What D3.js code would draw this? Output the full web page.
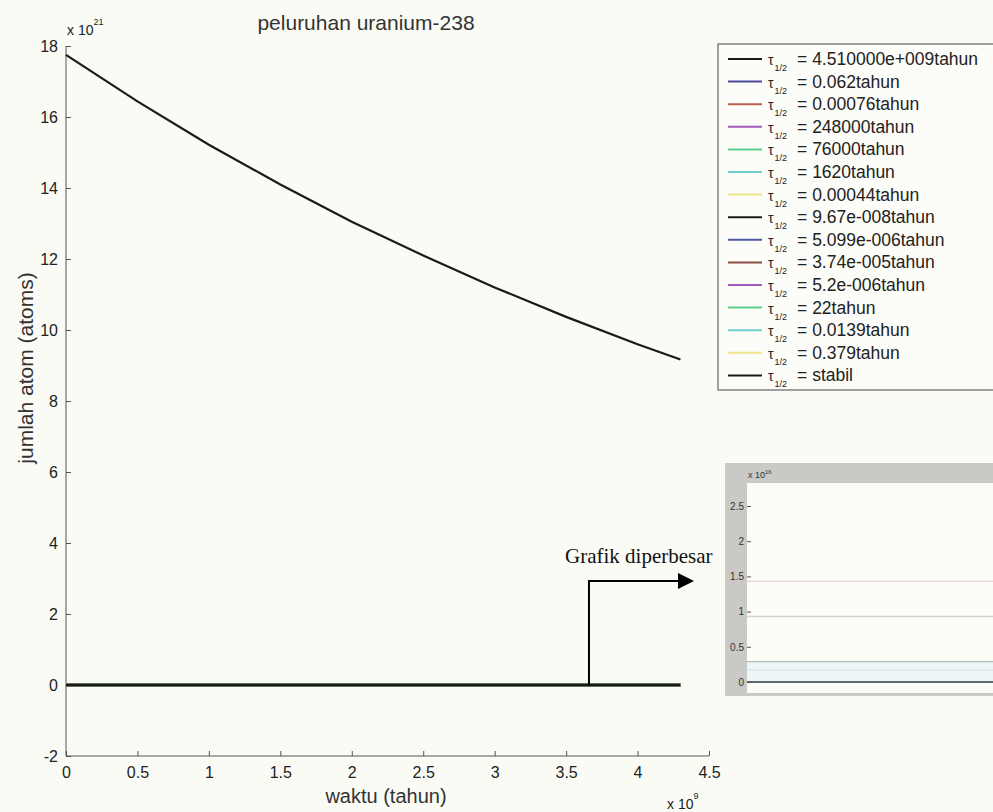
<!DOCTYPE html>
<html>
<head>
<meta charset="utf-8">
<script src="https://cdn.jsdelivr.net/npm/d3@7"></script>
<style>
  html, body { margin: 0; padding: 0; background: #fbfbf6; }
  svg { display: block; font-family: Arial, "Liberation Sans", sans-serif; }
</style>
</head>
<body>
<div id="chart"></div>
<script>
// waktu (tahun) and jumlah atom for U-238, others stay on zero
const tahun = [0, 0.5e9, 1e9, 1.5e9, 2e9, 2.5e9, 3e9, 3.5e9, 4e9, 4.3e9];
const u238 = [17.75e21, 16.44e21, 15.22e21, 14.1e21, 13.05e21, 12.1e21, 11.2e21, 10.37e21, 9.6e21, 9.17e21];
const nol = [0, 0, 0, 0, 0, 0, 0, 0, 0, 0];

const waktuParuh = ["4.510000e+009", "0.062", "0.00076", "248000", "76000", "1620", "0.00044",
  "9.67e-008", "5.099e-006", "3.74e-005", "5.2e-006", "22", "0.0139", "0.379", "stabil"];
const warna = ["#1a1a1a", "#4a4a9a", "#b8604e", "#a45cb8", "#5ccf8c", "#6fcfd0", "#f0e68a",
  "#1a1a1a", "#4e5aa8", "#8a4a44", "#a45cb8", "#5ccf8c", "#6fcfd0", "#f0e68a", "#1a1a1a"];

const xTicks = [0, 0.5e9, 1e9, 1.5e9, 2e9, 2.5e9, 3e9, 3.5e9, 4e9, 4.5e9];
const yTicks = [-2e21, 0, 2e21, 4e21, 6e21, 8e21, 10e21, 12e21, 14e21, 16e21, 18e21];

// zoomed-in panel (x 10^16)
const insetTicks = [0, 0.5, 1, 1.5, 2, 2.5];
const insetLevels = [1.43, 0.93, 0.29, 0.17, 0];
const insetColors = ["#ecd2d2", "#cdd8d6", "#a9c2b2", "#d6e6ee", "#5d6a72"];

const W = 993, H = 812;
const svg = d3.select("#chart").append("svg")
  .attr("width", W).attr("height", H);

svg.append("rect").attr("width", W).attr("height", H).attr("fill", "#fbfbf6");

const x = d3.scaleLinear().domain([0, 4.5e9]).range([66, 709]);
const y = d3.scaleLinear().domain([-2e21, 18e21]).range([756, 46]);
const fmt = d => d3.format("~g")(d).replace("−", "-");

// axes (MATLAB style, box off, ticks inward)
const xAxis = d3.axisBottom(x).tickValues(xTicks).tickSize(-5).tickPadding(11)
  .tickFormat(d => fmt(d / 1e9));
svg.append("g")
  .attr("transform", `translate(0,${y(-2e21)})`)
  .call(xAxis)
  .call(g => g.select(".domain").attr("d", `M${x(0)},0H${x(4.5e9)}`));

const yAxis = d3.axisLeft(y).tickValues(yTicks).tickSize(-5).tickPadding(8)
  .tickFormat(d => fmt(d / 1e21));
svg.append("g")
  .attr("transform", `translate(${x(0)},0)`)
  .call(yAxis)
  .call(g => g.select(".domain").attr("d", `M0,${y(18e21)}V${y(-2e21)}`));

svg.selectAll(".tick text").attr("font-size", 16).attr("fill", "#222")
  .attr("font-family", "Arial, 'Liberation Sans', sans-serif");
svg.selectAll(".domain, .tick line").attr("stroke", "#555");

// multiplier labels
const m21 = svg.append("text").attr("x", 67).attr("y", 35).attr("font-size", 14).attr("fill", "#222");
m21.append("tspan").text("x 10");
m21.append("tspan").attr("dy", -10).attr("font-size", 9).text("21");

const m9 = svg.append("text").attr("x", 667).attr("y", 809).attr("font-size", 14).attr("fill", "#222");
m9.append("tspan").text("x 10");
m9.append("tspan").attr("dy", -10).attr("font-size", 9).text("9");

// titles
svg.append("text").attr("x", 366).attr("y", 30).attr("text-anchor", "middle")
  .attr("font-size", 21).attr("fill", "#333").text("peluruhan uranium-238");
svg.append("text").attr("x", 386).attr("y", 803).attr("text-anchor", "middle")
  .attr("font-size", 20).attr("fill", "#333").text("waktu (tahun)");
svg.append("text").attr("transform", "translate(33,368) rotate(-90)").attr("text-anchor", "middle")
  .attr("font-size", 21).attr("fill", "#333").text("jumlah atom (atoms)");

// lines
const line = d3.line().x((d, i) => x(tahun[i])).y(d => y(d));
const series = waktuParuh.map((p, i) => ({ p, c: warna[i], v: i === 0 ? u238 : nol }));

svg.append("g").selectAll("path")
  .data(series.slice(1))
  .join("path")
  .attr("fill", "none")
  .attr("stroke", d => d.c)
  .attr("stroke-width", 3)
  .attr("d", d => line(d.v));

svg.append("path")
  .attr("fill", "none")
  .attr("stroke", warna[0])
  .attr("stroke-width", 2.2)
  .attr("d", line(u238));

// legend
const lg = svg.append("g").attr("transform", "translate(718,44)");
lg.append("rect").attr("width", 290).attr("height", 346)
  .attr("fill", "#fcfcf8").attr("stroke", "#444");
const item = lg.selectAll("g.item").data(series).join("g")
  .attr("class", "item")
  .attr("transform", (d, i) => `translate(0,${15 + i * 22.6})`);
item.append("line").attr("x1", 10).attr("x2", 44)
  .attr("stroke", d => d.c).attr("stroke-width", 2);
const lt = item.append("text").attr("x", 50).attr("y", 6).attr("font-size", 17.5).attr("fill", "#222");
lt.append("tspan").attr("font-size", 14).text("τ");
lt.append("tspan").attr("dy", 6).attr("dx", 1).attr("font-size", 9).text("1/2");
lt.append("tspan").attr("dy", -6).attr("dx", 10)
  .text(d => d.p === "stabil" ? "= stabil" : `= ${d.p}tahun`);

// arrow to zoomed panel
svg.append("path")
  .attr("d", `M${x(3.66e9)},${y(0)}V581H679`)
  .attr("fill", "none").attr("stroke", "#000").attr("stroke-width", 2);
svg.append("path").attr("d", "M678,573L694,581L678,589Z").attr("fill", "#000");
svg.append("text").attr("x", 565).attr("y", 563)
  .attr("font-family", "'Liberation Serif', 'Times New Roman', serif")
  .attr("font-size", 21).attr("fill", "#111").text("Grafik diperbesar");

// zoomed panel
const ins = svg.append("g");
ins.append("rect").attr("x", 725).attr("y", 463).attr("width", W - 725).attr("height", 233).attr("fill", "#c9c9c6");
ins.append("rect").attr("x", 747).attr("y", 483).attr("width", W - 747).attr("height", 210).attr("fill", "#fdfdf8");

const yi = d3.scaleLinear().domain([0, 2.5]).range([682, 506]);
const xi = d3.scaleLinear().domain([0, 1]).range([747, W]);

ins.append("rect").attr("x", xi(0)).attr("y", yi(0.29)).attr("width", xi(1) - xi(0))
  .attr("height", yi(0) - yi(0.29)).attr("fill", "#eef5f7");

ins.selectAll("line.lvl").data(insetLevels).join("line")
  .attr("class", "lvl")
  .attr("x1", xi(0)).attr("x2", xi(1))
  .attr("y1", d => yi(d)).attr("y2", d => yi(d))
  .attr("stroke", (d, i) => insetColors[i])
  .attr("stroke-width", (d, i) => i === insetLevels.length - 1 ? 2.2 : 1.4);

const insAxis = d3.axisLeft(yi).tickValues(insetTicks).tickSize(-4).tickPadding(3)
  .tickFormat(d3.format("~g"));
ins.append("g").attr("transform", `translate(${xi(0)},0)`)
  .call(insAxis)
  .call(g => g.select(".domain").remove())
  .call(g => g.selectAll("text").attr("font-size", 10).attr("fill", "#333"))
  .call(g => g.selectAll("line").attr("stroke", "#555"));

const m16 = ins.append("text").attr("x", 748).attr("y", 478).attr("font-size", 9).attr("fill", "#333");
m16.append("tspan").text("x 10");
m16.append("tspan").attr("dy", -4).attr("font-size", 6).text("16");
</script>
</body>
</html>
